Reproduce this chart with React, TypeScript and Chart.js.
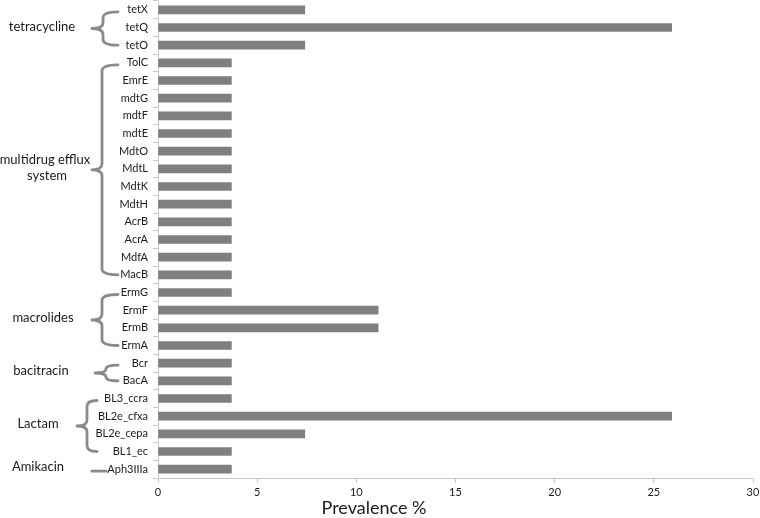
import React, { useEffect, useRef } from "react";
import { Chart, registerables } from "chart.js";

Chart.register(...registerables);

const genes: string[] = [
  "tetX", "tetQ", "tetO",
  "TolC", "EmrE", "mdtG", "mdtF", "mdtE", "MdtO", "MdtL", "MdtK", "MdtH", "AcrB", "AcrA", "MdfA", "MacB",
  "ErmG", "ErmF", "ErmB", "ErmA",
  "Bcr", "BacA",
  "BL3_ccra", "BL2e_cfxa", "BL2e_cepa", "BL1_ec",
  "Aph3IIIa",
];

const prevalence: number[] = [
  7.4, 25.9, 7.4,
  3.7, 3.7, 3.7, 3.7, 3.7, 3.7, 3.7, 3.7, 3.7, 3.7, 3.7, 3.7, 3.7,
  3.7, 11.1, 11.1, 3.7,
  3.7, 3.7,
  3.7, 25.9, 7.4, 3.7,
  3.7,
];

const groupNames: string[][] = [
  ["tetracycline"],
  ["multidrug efflux", "system"],
  ["macrolides"],
  ["bacitracin"],
  ["Lactam"],
  ["Amikacin"],
];
const groupStart: number[] = [0, 3, 16, 20, 22, 26];
const groupEnd: number[] = [2, 15, 19, 21, 25, 26];

const xTitle = "Prevalence %";

const FONT = "Lato, 'Open Sans', sans-serif";

// brace geometry per group: [verticalX, hookRightX, tipX, textCenterX]
const braceGeom: number[][] = [
  [103, 118, 92, 42],
  [102, 118, 92, 45],
  [102, 118, 92, 43],
  [106, 118, 95, 41],
  [87, 97, 77, 38],
  [92, 106, 92, 38],
];

const groupPlugin = {
  id: "groupBraces",
  afterDraw(chart: any) {
    const ctx = chart.ctx as CanvasRenderingContext2D;
    const y = chart.scales.y;
    ctx.save();
    ctx.strokeStyle = "#8a8a8a";
    ctx.lineWidth = 2.8;
    ctx.lineCap = "round";
    ctx.lineJoin = "round";
    for (let g = 0; g < groupNames.length; g++) {
      const [xv, xr, xt, tx] = braceGeom[g];
      const single = groupStart[g] === groupEnd[g];
      const y1 = y.getPixelForValue(groupStart[g]) + (single ? 0 : 2);
      const y2 = y.getPixelForValue(groupEnd[g]);
      const ym = (y1 + y2) / 2;
      ctx.beginPath();
      if (single) {
        ctx.moveTo(xt, ym + 2);
        ctx.lineTo(xr, ym + 2);
      } else {
        const r = Math.min(6, (y2 - y1) / 4);
        ctx.moveTo(xr, y1);
        ctx.quadraticCurveTo(xv, y1, xv, y1 + r);
        ctx.lineTo(xv, ym - r);
        ctx.quadraticCurveTo(xv, ym, xt, ym);
        ctx.quadraticCurveTo(xv, ym, xv, ym + r);
        ctx.lineTo(xv, y2 - r);
        ctx.quadraticCurveTo(xv, y2, xr, y2);
      }
      ctx.stroke();

      ctx.fillStyle = "#1a1a1a";
      ctx.font = `13px ${FONT}`;
      ctx.textAlign = "center";
      ctx.textBaseline = "middle";
      const lines = groupNames[g];
      const lh = 16;
      const top = ym - 2 - ((lines.length - 1) * lh) / 2;
      lines.forEach((ln, i) => ctx.fillText(ln, tx + (i > 0 ? 2 : 0), top + i * lh));
    }
    ctx.font = `18px ${FONT}`;
    ctx.fillStyle = "#1a1a1a";
    ctx.textAlign = "center";
    ctx.textBaseline = "middle";
    ctx.fillText(xTitle, 374, 508);
    ctx.restore();
  },
};

export default function App() {
  const ref = useRef<HTMLCanvasElement>(null);
  useEffect(() => {
    if (!ref.current) return;
    const chart = new Chart(ref.current, {
      type: "bar",
      data: {
        labels: genes,
        datasets: [
          {
            data: prevalence,
            backgroundColor: "#7f7f7f",
            borderWidth: 0,
            barThickness: 8,
          },
        ],
      },
      options: {
        indexAxis: "y",
        responsive: false,
        animation: false,
        layout: { padding: { top: 1, right: 7, left: 0, bottom: 0 } },
        plugins: {
          legend: { display: false },
          tooltip: { enabled: false },
          title: { display: false },
        },
        scales: {
          x: {
            min: 0,
            max: 30,
            ticks: {
              stepSize: 5,
              color: "#1a1a1a",
              font: { family: FONT, size: 11 },
              padding: 3,
              maxRotation: 0,
            },
            grid: {
              drawOnChartArea: false,
              drawTicks: true,
              tickLength: 5,
              color: "#c8c8c8",
            },
            border: { color: "#c8c8c8", width: 1 },
            afterFit(scale: any) {
              scale.height = 40;
              scale.paddingLeft = 0;
              scale.paddingRight = 0;
            },
          },
          y: {
            offset: true,
            ticks: {
              color: "#1a1a1a",
              font: { family: FONT, size: 11 },
              padding: 5,
              autoSkip: false,
            },
            grid: {
              offset: true,
              drawOnChartArea: false,
              drawTicks: true,
              tickLength: 5,
              color: "#c8c8c8",
            },
            border: { color: "#c8c8c8", width: 1 },
            afterFit(scale: any) {
              scale.width = 158;
              scale.paddingTop = 0;
              scale.paddingBottom = 0;
            },
          },
        },
      },
      plugins: [groupPlugin],
    } as any);
    return () => chart.destroy();
  }, []);
  return (
    <div style={{ position: "absolute", left: 0, top: 0, width: 760, height: 518, background: "#fff" }}>
      <canvas ref={ref} width={760} height={518} style={{ display: "block" }} />
    </div>
  );
}
